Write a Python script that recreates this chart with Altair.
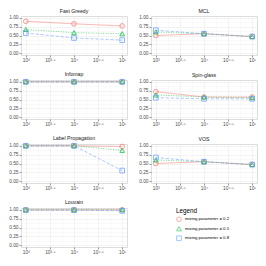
import altair as alt
import pandas as pd

algorithms = ["Fast Greedy", "MCL", "Infomap", "Spin-glass",
              "Label Propagation", "VOS", "Louvain"]
network_sizes = [1000, 10000, 100000]
mixing_labels = ["mixing parameter = 0.2", "mixing parameter = 0.5",
                 "mixing parameter = 0.8"]

# values per algorithm: [mu=0.2, mu=0.5, mu=0.8], each over network_sizes
fast_greedy = [[0.90, 0.83, 0.77], [0.67, 0.58, 0.55], [0.57, 0.43, 0.37]]
mcl = [[0.50, 0.55, 0.47], [0.60, 0.55, 0.47], [0.65, 0.55, 0.47]]
infomap = [[1.00, 1.00, 1.00], [1.00, 1.00, 1.00], [1.00, 1.00, 1.00]]
spin_glass = [[0.72, 0.57, 0.57], [0.63, 0.57, 0.55], [0.55, 0.52, 0.52]]
label_prop = [[1.00, 1.00, 0.98], [1.00, 1.00, 0.87], [1.00, 1.00, 0.30]]
vos = [[0.50, 0.55, 0.47], [0.60, 0.55, 0.47], [0.67, 0.55, 0.47]]
louvain = [[1.00, 1.00, 1.00], [1.00, 1.00, 1.00], [0.99, 0.99, 0.97]]

series = [fast_greedy, mcl, infomap, spin_glass, label_prop, vos, louvain]

rows = []
for alg, vals in zip(algorithms, series):
    for mu, ys in zip(mixing_labels, vals):
        for n, v in zip(network_sizes, ys):
            rows.append({"algorithm": alg, "mixing": mu, "n": n, "value": v})
df = pd.DataFrame(rows)

colors = ["#F8766D", "#00BA38", "#619CFF"]
shapes = ["circle", "triangle-up", "square"]
dashes = [[1, 0], [1, 1.5], [3, 2]]

x_vals = [10 ** (3 + 0.25 * k) for k in range(9)]
y_vals = [0.125 * k for k in range(9)]

x_label_expr = ("(round(log(datum.value)/LN10*4) == 12) ? '10³' : "
                "(round(log(datum.value)/LN10*4) == 14) ? '10³·⁵' : "
                "(round(log(datum.value)/LN10*4) == 16) ? '10⁴' : "
                "(round(log(datum.value)/LN10*4) == 18) ? '10⁴·⁵' : "
                "(round(log(datum.value)/LN10*4) == 20) ? '10⁵' : ''")
x_minor = "round(log(datum.value)/LN10*4) % 2 == 1"
y_minor = "round(datum.value*8) % 2 == 1"

x_axis = alt.Axis(
    values=x_vals, labelExpr=x_label_expr, title=None, domain=False,
    labelFontSize=4.8, labelColor="#4D4D4D", labelPadding=0.5,
    tickSize=2, tickColor="#333333", tickWidth=0.5,
    tickOpacity={"condition": {"test": x_minor, "value": 0}, "value": 1},
    gridColor="#EBEBEB",
    gridWidth={"condition": {"test": x_minor, "value": 0.3}, "value": 0.6},
    labelFlush=False, labelOverlap=False,
)
y_axis = alt.Axis(
    values=y_vals,
    labelExpr="(round(datum.value*8) % 2 == 0) ? format(datum.value, '.2f') : ''",
    title=None, domain=False,
    labelFontSize=4.8, labelColor="#4D4D4D", labelPadding=1,
    tickSize=2, tickColor="#333333", tickWidth=0.5,
    tickOpacity={"condition": {"test": y_minor, "value": 0}, "value": 1},
    gridColor="#EBEBEB",
    gridWidth={"condition": {"test": y_minor, "value": 0.3}, "value": 0.6},
    labelFlush=False, labelOverlap=False,
)

x_enc = alt.X("n:Q", scale=alt.Scale(type="log", domain=[10 ** 2.9, 10 ** 5.1],
                                     nice=False), axis=x_axis)
y_enc = alt.Y("value:Q", scale=alt.Scale(domain=[-0.05, 1.05], nice=False,
                                         zero=False), axis=y_axis)
color_enc = alt.Color("mixing:N", scale=alt.Scale(domain=mixing_labels, range=colors),
                      title="Legend")
shape_enc = alt.Shape("mixing:N", scale=alt.Scale(domain=mixing_labels, range=shapes),
                      title="Legend")

base = alt.Chart(df)
line_layers = [
    base.transform_filter(alt.datum.mixing == mu).mark_line(
        strokeWidth=0.8, opacity=0.7, strokeDash=dash
    ).encode(x=x_enc, y=y_enc, color=color_enc)
    for mu, dash in zip(mixing_labels, dashes)
]
points = base.mark_point(filled=False, size=22, strokeWidth=0.8, opacity=0.9).encode(
    x=x_enc, y=y_enc, color=color_enc, shape=shape_enc,
)

chart = alt.layer(*line_layers, points).properties(width=106, height=39).facet(
    facet=alt.Facet("algorithm:N", sort=algorithms, title=None,
                    header=alt.Header(labelFontSize=5.2, labelColor="#1A1A1A",
                                      labelFontWeight="normal",
                                      labelPadding=0.5, labelFont="Liberation Sans")),
    columns=2,
    spacing={"row": 8, "column": 10},
).resolve_axis(x="independent", y="independent").properties(
    padding={"left": 0, "top": 0, "right": 0, "bottom": 0}
).configure_view(
    stroke="#333333", strokeWidth=0.5
).configure(
    font="Liberation Sans"
).configure_legend(
    orient="none", legendX=155, legendY=192,
    titleFontSize=6.3, titleFontWeight="normal", titleColor="#000000",
    titlePadding=2, labelFontSize=4.3, labelColor="#000000",
    symbolSize=22, symbolStrokeWidth=0.8, rowPadding=1.5, labelOffset=3,
)

chart.save("out.html", embed_options={"renderer": "svg", "actions": False})
